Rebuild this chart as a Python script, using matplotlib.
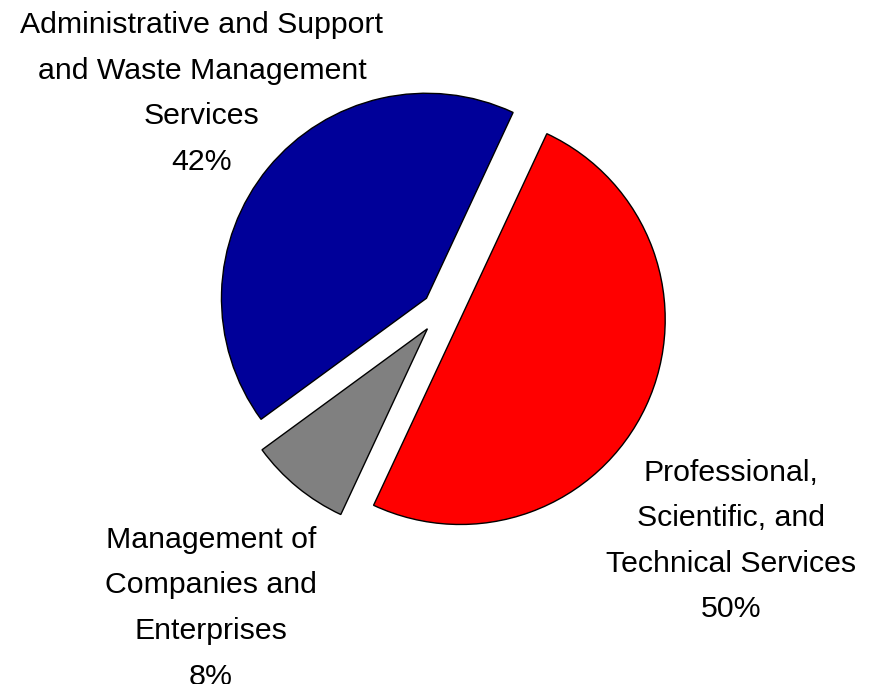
import matplotlib
matplotlib.use("Agg")
import matplotlib.pyplot as plt

# ---- data ----
categories = [
    "Professional,\nScientific, and\nTechnical Services",
    "Management of\nCompanies and\nEnterprises",
    "Administrative and Support\nand Waste Management\nServices",
]
shares = [50, 8, 42]
colors = ["#FF0000", "#808080", "#000099"]

# ---- layout (styles / positions) ----
explode = [0.098, 0.112, 0.098]
label_anchor = [(1.410, -0.829), (-1.127, -1.156), (-1.171, 1.356)]  # first baseline, data units
line_step = 0.222  # data units between baselines
R_PX = 205.0

plt.rcParams["font.family"] = ["Liberation Sans", "DejaVu Sans"]

fig = plt.figure(figsize=(8.75, 6.84), dpi=100)
ax = fig.add_axes([0, 0, 1, 1])
wedges, _ = ax.pie(
    shares,
    colors=colors,
    startangle=65,
    counterclock=False,
    explode=explode,
    radius=1.0,
    wedgeprops=dict(edgecolor="black", linewidth=1.0),
)
ax.set_xlim(-442 / R_PX, 433 / R_PX)
ax.set_ylim(-(684 - 311) / R_PX, 311 / R_PX)
ax.set_aspect("auto")
ax.axis("off")

for cat, val, (lx, ly) in zip(categories, shares, label_anchor):
    lines = cat.split("\n") + [f"{val}%"]
    for i, line in enumerate(lines):
        ax.text(lx, ly - i * line_step, line, ha="center", va="baseline",
                fontsize=21.8, color="black")

fig.savefig("out.png", dpi=100)
